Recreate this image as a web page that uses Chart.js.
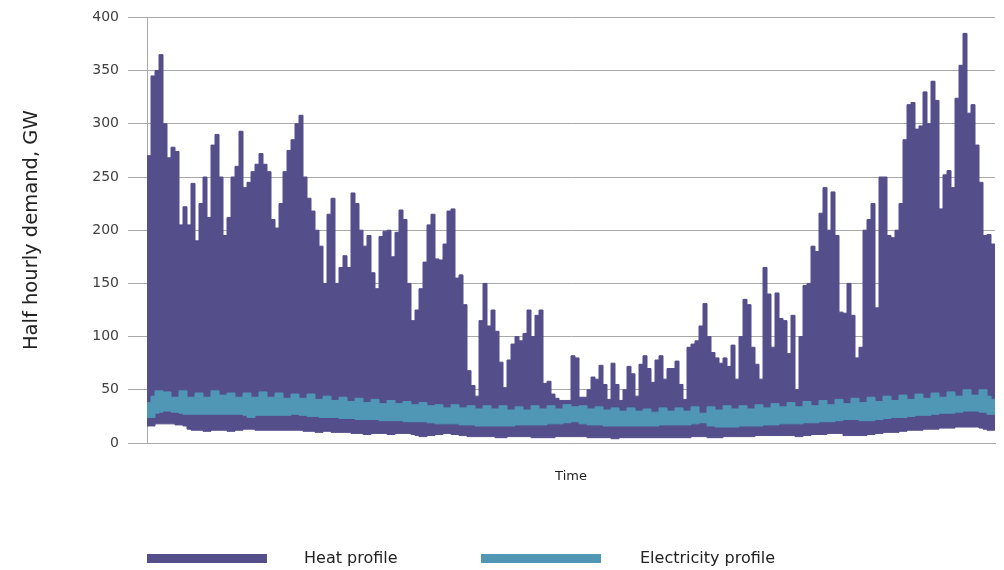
<!DOCTYPE html>
<html>
<head>
<meta charset="utf-8">
<script src="https://cdn.jsdelivr.net/npm/chart.js@4.4.1/dist/chart.umd.min.js"></script>
<style>
    body { margin: 0; background: #fff; }
    #wrap { position: relative; width: 1004px; height: 570px; }
    #chart-box { position: absolute; left: 0; top: 0; width: 1004px; height: 570px; }
    .key { position: absolute; top: 554px; width: 120px; height: 9px; }
    .key-label { position: absolute; top: 548px; font: 16px "DejaVu Sans", sans-serif; color: #222; }
</style>
</head>
<body>
<div id="wrap">
    <div id="chart-box"><canvas id="chart-demand"></canvas></div>
    <div class="key" style="left:147px;background:#544e8b"></div>
    <div class="key-label" style="left:304px">Heat profile</div>
    <div class="key" style="left:481px;background:#4f97b5"></div>
    <div class="key-label" style="left:640px">Electricity profile</div>
</div>
<script>
// une valeur par colonne (~1,7 jour)
const heat_max = [
    270, 345, 350, 365, 300, 268, 278, 274, 205, 222, 205, 244, 190, 225, 250, 212, 280, 290,
    250, 195, 212, 250, 260, 293, 240, 245, 255, 262, 272, 262, 255, 210, 202, 225, 255, 275,
    285, 300, 308, 250, 230, 218, 200, 185, 150, 215, 230, 150, 165, 176, 165, 235, 225, 200,
    185, 195, 160, 145, 194, 199, 200, 175, 198, 219, 210, 150, 115, 125, 145, 170, 205, 215,
    173, 172, 187, 218, 220, 155, 158, 130, 68, 54, 44, 115, 150, 110, 125, 105, 76, 52,
    78, 93, 100, 96, 103, 125, 100, 120, 125, 56, 58, 46, 42, 40, 40, 40, 82, 80,
    43, 43, 50, 62, 60, 73, 55, 41, 75, 55, 40, 50, 72, 65, 44, 74, 82, 70,
    57, 78, 82, 60, 70, 70, 77, 55, 41, 90, 93, 96, 110, 131, 100, 85, 80, 75,
    80, 72, 92, 60, 100, 135, 130, 90, 74, 60, 165, 140, 90, 141, 117, 115, 84, 120,
    50, 100, 148, 150, 185, 180, 216, 240, 200, 236, 195, 123, 122, 150, 120, 80, 90, 200,
    210, 225, 127, 250, 250, 195, 193, 200, 225, 285, 318, 320, 295, 298, 330, 300, 340, 322,
    220, 252, 256, 240, 324, 355, 385, 310, 318, 280, 245, 195, 196, 187
];
const heat_min = [
    16, 16, 18, 18, 18, 18, 18, 17, 17, 16, 13, 12, 12, 12, 11, 11, 12, 12, 12, 12, 11, 11, 12, 12, 13, 13, 13, 12, 12, 12, 12, 12, 12, 12, 12, 12,
    12, 12, 12, 11, 11, 11, 10, 10, 11, 11, 10, 10, 10, 10, 10, 9, 9, 9, 8, 8, 9, 9, 9, 9, 8, 8, 9, 9, 9, 9, 8, 7, 6, 6, 7, 7,
    8, 8, 9, 9, 8, 8, 7, 7, 6, 6, 6, 6, 6, 6, 6, 5, 5, 5, 6, 6, 6, 6, 6, 6, 5, 5, 5, 5, 5, 5, 6, 6, 6, 6, 6, 6,
    6, 6, 5, 5, 5, 5, 5, 5, 4, 4, 5, 5, 5, 5, 5, 5, 5, 5, 5, 5, 5, 5, 5, 5, 5, 5, 5, 5, 6, 6, 6, 6, 5, 5, 5, 5,
    6, 6, 6, 6, 6, 6, 6, 6, 7, 7, 7, 7, 7, 7, 7, 7, 7, 7, 6, 6, 7, 7, 8, 8, 8, 8, 9, 9, 9, 9, 7, 7, 7, 7, 7, 7,
    8, 8, 9, 9, 10, 10, 10, 10, 11, 11, 12, 12, 12, 12, 13, 13, 13, 13, 14, 14, 14, 14, 15, 15, 15, 15, 15, 15, 14, 13, 12, 12
];
const elec_max = [
    38, 44, 49, 49, 48, 48, 43, 43, 49, 49, 43, 43, 47, 47, 43, 43, 49, 49, 45, 45, 47, 47, 43, 43, 47, 47, 43, 43, 48, 48, 43, 43, 47, 47, 42, 42,
    46, 46, 42, 42, 46, 46, 41, 41, 44, 44, 40, 40, 43, 43, 39, 39, 42, 42, 38, 38, 41, 41, 37, 37, 40, 40, 37, 37, 39, 39, 36, 36, 38, 38, 35, 35,
    36, 36, 33, 33, 36, 36, 33, 33, 35, 35, 32, 32, 35, 35, 32, 32, 35, 35, 31, 31, 34, 34, 31, 31, 35, 35, 32, 32, 35, 35, 32, 32, 36, 36, 34, 34,
    35, 35, 32, 32, 34, 34, 31, 31, 33, 33, 30, 30, 33, 33, 30, 30, 32, 32, 29, 29, 33, 33, 30, 30, 33, 33, 30, 30, 34, 34, 28, 28, 34, 34, 31, 31,
    35, 35, 32, 32, 35, 35, 32, 32, 36, 36, 33, 33, 37, 37, 34, 34, 38, 38, 34, 34, 39, 39, 35, 35, 40, 40, 36, 36, 41, 41, 37, 37, 42, 42, 38, 38,
    43, 43, 39, 39, 44, 44, 40, 40, 45, 45, 41, 41, 46, 46, 42, 42, 47, 47, 43, 43, 48, 48, 44, 44, 50, 50, 45, 45, 50, 50, 44, 41
];
const elec_min = [
    24, 24, 28, 29, 30, 30, 29, 29, 28, 27, 27, 27, 27, 27, 27, 27, 27, 27, 27, 27, 27, 27, 27, 27, 26, 24, 24, 26, 26, 26, 26, 26, 26, 26, 26, 26,
    27, 27, 26, 26, 25, 25, 25, 24, 24, 24, 24, 24, 23, 23, 23, 23, 22, 22, 22, 22, 22, 22, 21, 21, 21, 21, 21, 21, 20, 20, 20, 20, 20, 20, 19, 19,
    18, 18, 18, 18, 18, 18, 17, 17, 17, 17, 16, 16, 16, 16, 16, 16, 16, 16, 16, 16, 17, 17, 17, 17, 17, 17, 17, 17, 18, 18, 18, 18, 19, 19, 20, 20,
    18, 18, 17, 17, 17, 17, 16, 16, 16, 16, 16, 16, 16, 16, 16, 16, 16, 16, 16, 16, 17, 17, 17, 17, 17, 17, 17, 17, 18, 18, 19, 19, 16, 16, 15, 15,
    15, 15, 15, 15, 16, 16, 16, 16, 16, 16, 17, 17, 17, 17, 18, 18, 18, 18, 18, 18, 19, 19, 19, 19, 20, 20, 20, 20, 21, 21, 22, 22, 22, 22, 21, 21,
    21, 21, 22, 22, 23, 23, 24, 24, 24, 24, 25, 25, 26, 26, 26, 26, 27, 27, 28, 28, 28, 28, 29, 29, 30, 30, 30, 30, 29, 29, 27, 27
];
const y_ticks = [0, 50, 100, 150, 200, 250, 300, 350, 400];

const purple = "#544e8b";
const teal = "#4f97b5";
const grid_grey = "#a8a8a8";

// chaque valeur tient sa colonne jusqu'a la suivante (ligne en escalier)
const to_steps = (values) => {
    const pts = values.map((v, i) => ({ x: i, y: v }));
    pts.push({ x: values.length, y: values[values.length - 1] });
    return pts;
};

Chart.defaults.font.family = '"DejaVu Sans", sans-serif';

const ctx = document.getElementById("chart-demand");
new Chart(ctx, {
    type: "line",
    data: {
        datasets: [
            {
                label: "Electricity profile",
                data: to_steps(elec_max),
                stepped: true,
                fill: "+1",
                backgroundColor: teal,
                borderColor: teal,
                borderWidth: 1,
                pointRadius: 0,
            },
            {
                label: "elec min",
                data: to_steps(elec_min),
                stepped: true,
                fill: false,
                borderColor: teal,
                borderWidth: 1,
                pointRadius: 0,
            },
            {
                label: "Heat profile",
                data: to_steps(heat_max),
                stepped: true,
                fill: "+1",
                backgroundColor: purple,
                borderColor: purple,
                borderWidth: 1,
                pointRadius: 0,
            },
            {
                label: "heat min",
                data: to_steps(heat_min),
                stepped: true,
                fill: false,
                borderColor: purple,
                borderWidth: 1,
                pointRadius: 0,
            },
        ],
    },
    options: {
        responsive: true,
        maintainAspectRatio: false,
        animation: false,
        layout: { padding: { top: 17, right: 9, bottom: 0, left: 0 } },
        plugins: {
            legend: { display: false },
            tooltip: { enabled: false },
        },
        scales: {
            x: {
                type: "linear",
                min: 0,
                max: heat_max.length,
                grid: { display: false, drawTicks: false },
                ticks: { display: false },
                border: { color: grid_grey, width: 1 },
                title: {
                    display: true,
                    text: "Time",
                    color: "#222",
                    font: { size: 13 },
                    padding: { top: 0, bottom: 86 },
                },
                afterFit: (scale) => {
                    scale.height = 127;
                },
            },
            y: {
                min: 0,
                max: 400,
                afterBuildTicks: (scale) => {
                    scale.ticks = y_ticks.map((v) => ({ value: v }));
                },
                grid: { color: grid_grey, lineWidth: 1, tickLength: 19, tickColor: grid_grey },
                border: { color: grid_grey, width: 1 },
                ticks: { color: "#404040", font: { size: 14 }, padding: 9 },
                title: {
                    display: true,
                    text: "Half hourly demand, GW",
                    color: "#222",
                    font: { size: 19.5 },
                    padding: { top: 20, bottom: 0 },
                },
                afterFit: (scale) => {
                    scale.width = 147;
                },
            },
        },
    },
});
</script>
</body>
</html>
